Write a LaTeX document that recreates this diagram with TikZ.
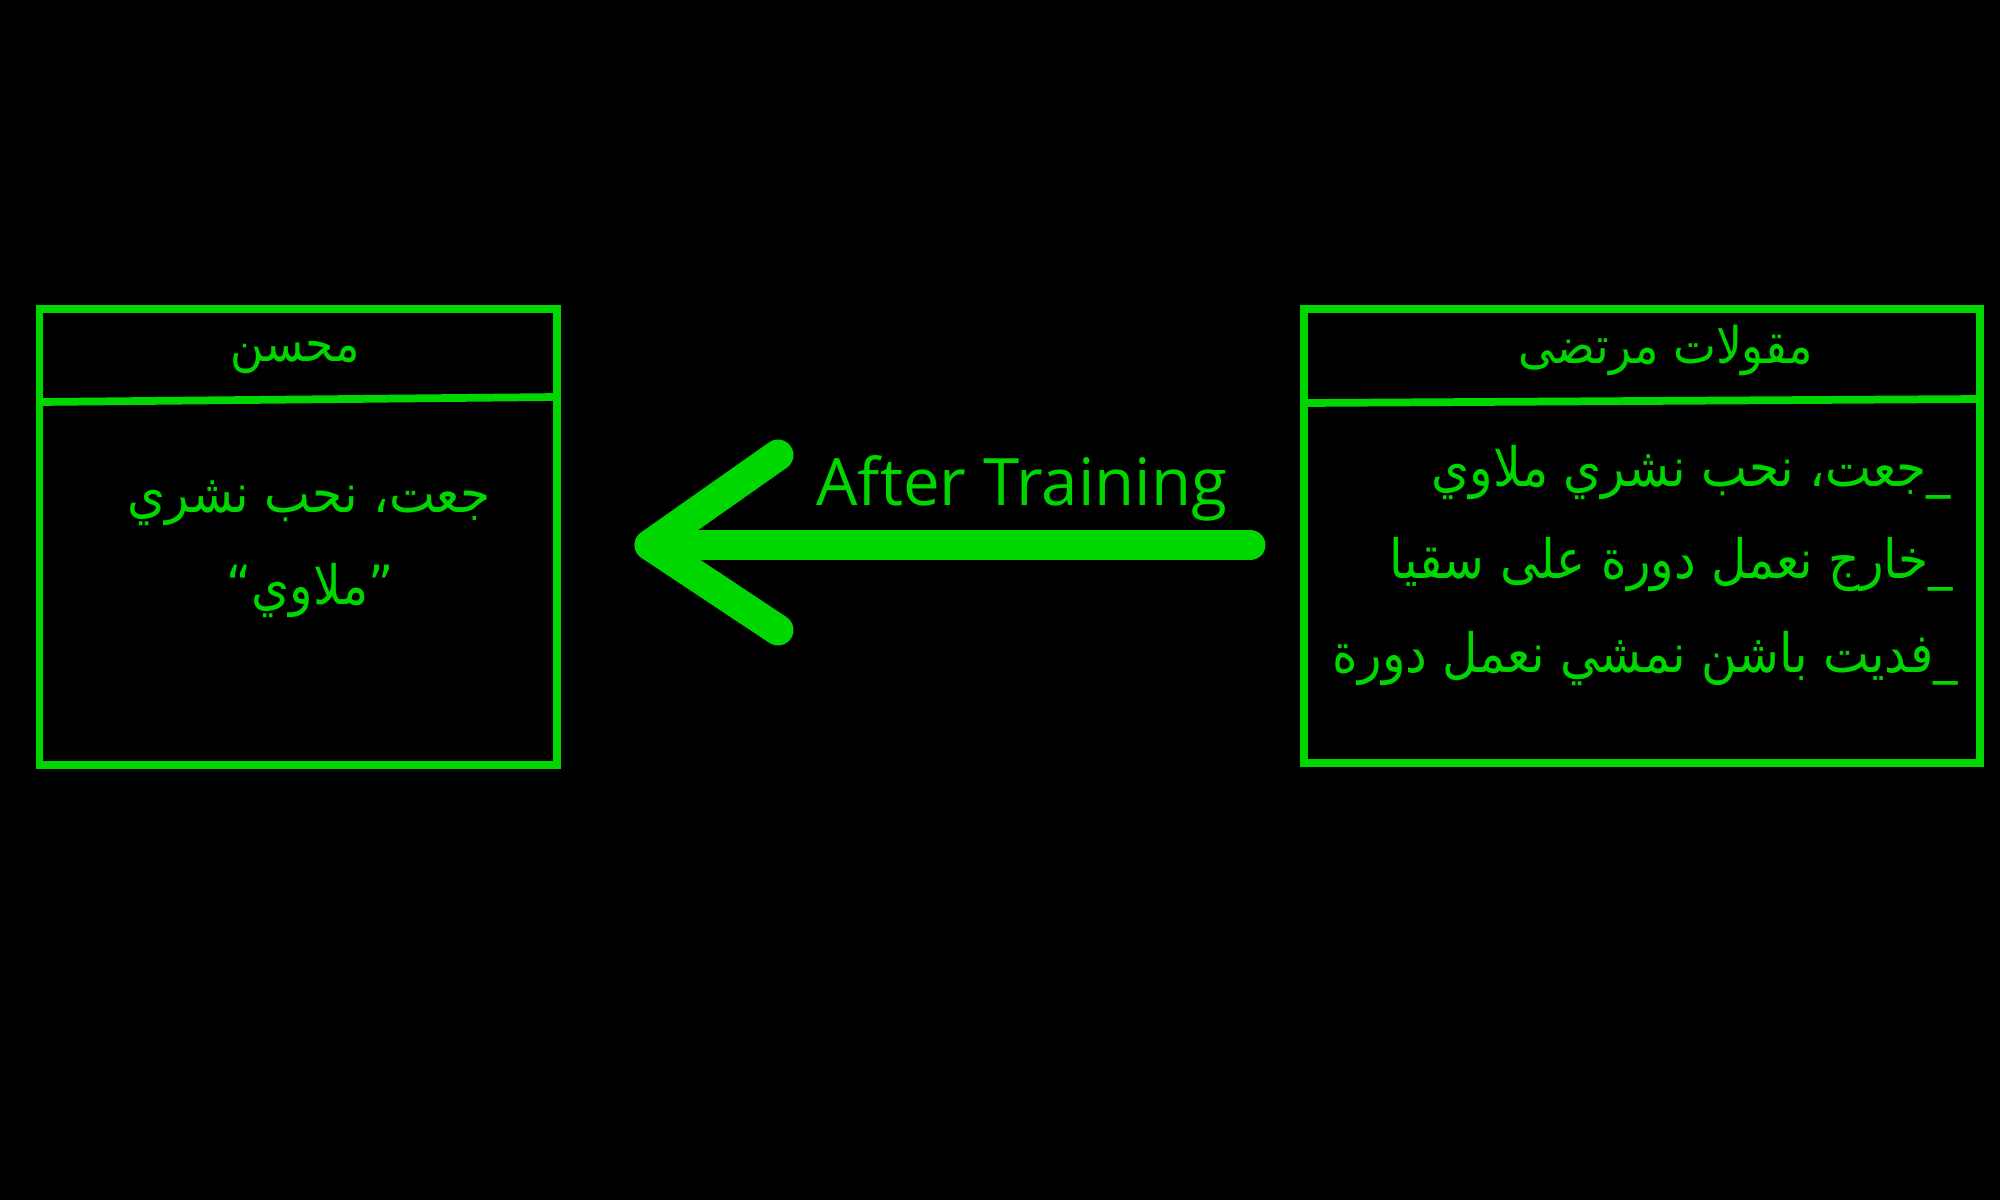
\documentclass[tikz,border=0pt]{standalone}
\usepackage{fontspec}
\setmainfont{Open Sans}
\newfontfamily\arabicfont[Script=Arabic,FakeStretch=0.9]{DejaVu Sans}
\TeXXeTstate=1
\usetikzlibrary{calc,positioning}
\definecolor{termgreen}{RGB}{0,214,0}

\begin{document}
\begin{tikzpicture}[x=0.01cm, y=-0.01cm,
 frame/.style={draw=termgreen, line width=2.2pt},
 arrowline/.style={draw=termgreen, line width=8.8pt, line cap=round, line join=round},
 boxtitle/.style={text=termgreen, inner sep=0pt, font=\arabicfont\fontsize{14.4}{17}\selectfont},
 boxbody/.style={text=termgreen, inner sep=0pt, font=\arabicfont\fontsize{15.4}{18}\selectfont}]

 \path[use as bounding box, fill=black] (0,0) rectangle (2000,1200);

% \draw[gray] (0,0) grid[step=100] (2000,1200);
 % left box
 \coordinate (LT) at (39.5,309);
 \coordinate (LB) at (557,765);
 \draw[frame] (LT) rectangle (LB);
 \draw[frame] (39.5,402) -- (557,397);

 \node[boxtitle] (mohsen) at (295,358) {\beginR محسن\endR};
 \node[boxbody] (mohsenone) at (309,503) {\beginR جعت، نحب نشري\endR};
 \node[boxbody] (mohsentwo) at (310,591) {\beginR ”ملاوي“\endR};

 % right box
 \coordinate (RT) at (1304,309);
 \coordinate (RB) at (1980,763);
 \draw[frame] (RT) rectangle (RB);
 \draw[frame] (1304,403) -- (1980,399);

 \node[boxtitle] (morteza) at (1666,350) {\beginR مقولات مرتضى\endR};
 \node[boxbody, anchor=east] (saying1) at (1952,473) {\beginR \_جعت، نحب نشري ملاوي\endR};
 \node[boxbody, anchor=east] (saying2) at (1954,565) {\beginR \_خارج نعمل دورة على سقيا\endR};
 \node[boxbody, anchor=east] (saying3) at (1959,659) {\beginR \_فديت باشن نمشي نعمل دورة\endR};

 % arrow
 \coordinate (tail) at (1250,545);
 \coordinate (tip) at (650,545);
 \coordinate (wingup) at (778,455);
 \coordinate (wingdown) at (778,630);
 \draw[arrowline] (tail) -- (tip);
 \draw[arrowline] (wingup) -- (tip) -- (wingdown);

 \node[text=termgreen, inner sep=0pt, anchor=base, font=\fontsize{18.6}{22}\selectfont] (training) at (1022,505) {After Training};

\end{tikzpicture}
\end{document}
